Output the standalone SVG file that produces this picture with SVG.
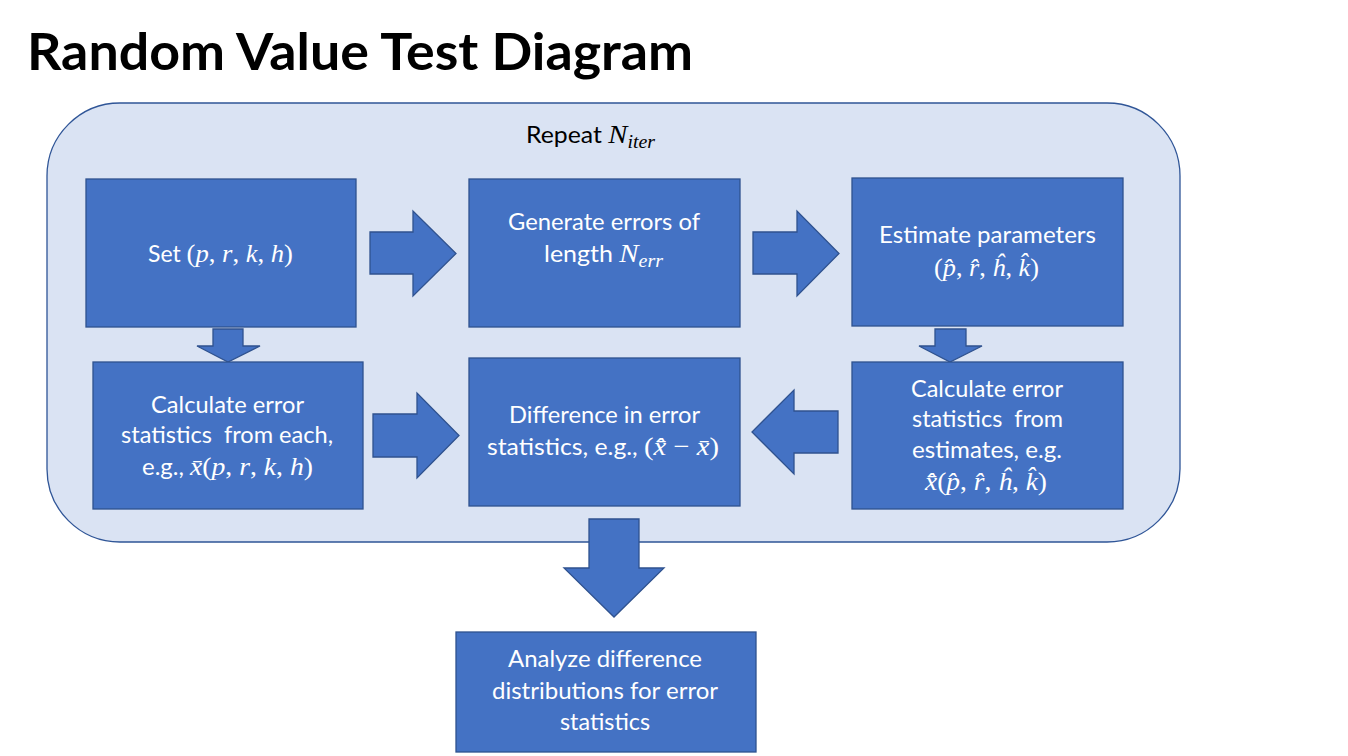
<svg xmlns="http://www.w3.org/2000/svg" width="1348" height="756" viewBox="0 0 1348 756">
<style>
.bg{fill:#ffffff}
.outer{fill:#DAE3F3;stroke:#2F5597;stroke-width:1.3}
.box{fill:#4472C4;stroke:#2F528F;stroke-width:1.3}
.arr{fill:#4472C4;stroke:#2F528F;stroke-width:1.3}
.t{font-family:Lato,"Liberation Sans",sans-serif;font-size:22.5px;fill:#ffffff}
.k{fill:#000000}
.title{font-family:Lato,"Liberation Sans",sans-serif;font-size:52px;font-weight:bold;fill:#000000}
.m{font-family:"Liberation Serif","DejaVu Serif",serif;font-size:26px}
.mi{font-family:"Liberation Serif","DejaVu Serif",serif;font-size:26px;font-style:italic}
.sub{font-family:"Liberation Serif","DejaVu Serif",serif;font-size:18px;font-style:italic}
</style>
<rect class="bg" x="0" y="0" width="1348" height="756"/>
<text class="title" x="27" y="70" textLength="666" lengthAdjust="spacingAndGlyphs">Random Value Test Diagram</text>

<g id="loop">
<rect class="outer" x="47" y="103" width="1133" height="439" rx="73" ry="73"/>
<text class="t k" x="526" y="143" textLength="129" lengthAdjust="spacingAndGlyphs">Repeat <tspan class="mi">N</tspan><tspan class="sub" dy="5">iter</tspan></text>
</g>

<g id="connectors">
<polygon id="a1" class="arr" points="370,232 413,232 413,211 456,253.5 413,296 413,274 370,274"/>
<polygon id="a2" class="arr" points="753,232 797,232 797,211 839,253.5 797,296 797,274 753,274"/>
<polygon id="a3" class="arr" points="373,414 417,414 417,393 459,435.5 417,478 417,457 373,457"/>
<polygon id="a4" class="arr" points="838,411 794,411 794,390 752,432 794,474 794,453 838,453"/>
<polygon id="d1" class="arr" points="213,329 243,329 243,346 260,346 228,362 197,346 213,346"/>
<polygon id="d2" class="arr" points="935,329 966,329 966,346 982,346 950,362 919,346 935,346"/>
<polygon id="d3" class="arr" points="589,519 639,519 639,568 664,568 614,617 564,568 589,568"/>
</g>

<g id="set">
<rect class="box" x="86" y="179" width="270" height="148"/>
<text class="t" x="148" y="262" textLength="145" lengthAdjust="spacingAndGlyphs">Set <tspan class="m">(</tspan><tspan class="mi">p</tspan><tspan class="m">, </tspan><tspan class="mi">r</tspan><tspan class="m">, </tspan><tspan class="mi">k</tspan><tspan class="m">, </tspan><tspan class="mi">h</tspan><tspan class="m">)</tspan></text>
</g>

<g id="generate">
<rect class="box" x="469" y="179" width="271" height="148"/>
<text class="t" x="508" y="230" textLength="192" lengthAdjust="spacingAndGlyphs">Generate errors of</text>
<text class="t" x="544" y="262" textLength="119" lengthAdjust="spacingAndGlyphs">length <tspan class="mi">N</tspan><tspan class="sub" dy="5">err</tspan></text>
</g>

<g id="estimate">
<rect class="box" x="852" y="178" width="271" height="148"/>
<text class="t" x="879" y="243" textLength="217" lengthAdjust="spacingAndGlyphs">Estimate parameters</text>
<text class="t" x="934" y="276" textLength="105" lengthAdjust="spacingAndGlyphs"><tspan class="m">(</tspan><tspan class="mi">p̂</tspan><tspan class="m">, </tspan><tspan class="mi">r̂</tspan><tspan class="m">, </tspan><tspan class="mi">ĥ</tspan><tspan class="m">, </tspan><tspan class="mi">k̂</tspan><tspan class="m">)</tspan></text>
</g>

<g id="calc-true">
<rect class="box" x="93" y="362" width="270" height="147"/>
<text class="t" x="151" y="413" textLength="153" lengthAdjust="spacingAndGlyphs">Calculate error</text>
<text class="t" x="121" y="443" textLength="212" lengthAdjust="spacingAndGlyphs" xml:space="preserve">statistics  from each,</text>
<text class="t" x="142" y="475" textLength="171" lengthAdjust="spacingAndGlyphs">e.g., <tspan class="mi">x̄</tspan><tspan class="m">(</tspan><tspan class="mi">p</tspan><tspan class="m">, </tspan><tspan class="mi">r</tspan><tspan class="m">, </tspan><tspan class="mi">k</tspan><tspan class="m">, </tspan><tspan class="mi">h</tspan><tspan class="m">)</tspan></text>
</g>

<g id="difference">
<rect class="box" x="469" y="358" width="271" height="148"/>
<text class="t" x="509" y="423" textLength="191" lengthAdjust="spacingAndGlyphs">Difference in error</text>
<text class="t" x="487" y="455" textLength="232" lengthAdjust="spacingAndGlyphs">statistics, e.g., <tspan class="m">(</tspan><tspan class="mi">x̄̂</tspan><tspan class="m"> − </tspan><tspan class="mi">x̄</tspan><tspan class="m">)</tspan></text>
</g>

<g id="calc-est">
<rect class="box" x="852" y="362" width="271" height="147"/>
<text class="t" x="911" y="397" textLength="152" lengthAdjust="spacingAndGlyphs">Calculate error</text>
<text class="t" x="912" y="427" textLength="151" lengthAdjust="spacingAndGlyphs" xml:space="preserve">statistics  from</text>
<text class="t" x="912" y="458" textLength="150" lengthAdjust="spacingAndGlyphs">estimates, e.g.</text>
<text class="t" x="925" y="490" textLength="122" lengthAdjust="spacingAndGlyphs"><tspan class="mi">x̄̂</tspan><tspan class="m">(</tspan><tspan class="mi">p̂</tspan><tspan class="m">, </tspan><tspan class="mi">r̂</tspan><tspan class="m">, </tspan><tspan class="mi">ĥ</tspan><tspan class="m">, </tspan><tspan class="mi">k̂</tspan><tspan class="m">)</tspan></text>
</g>

<g id="analyze">
<rect class="box" x="456" y="632" width="300" height="120"/>
<text class="t" x="508" y="667" textLength="194" lengthAdjust="spacingAndGlyphs">Analyze difference</text>
<text class="t" x="492" y="699" textLength="226" lengthAdjust="spacingAndGlyphs">distributions for error</text>
<text class="t" x="560" y="730" textLength="90" lengthAdjust="spacingAndGlyphs">statistics</text>
</g>
</svg>
